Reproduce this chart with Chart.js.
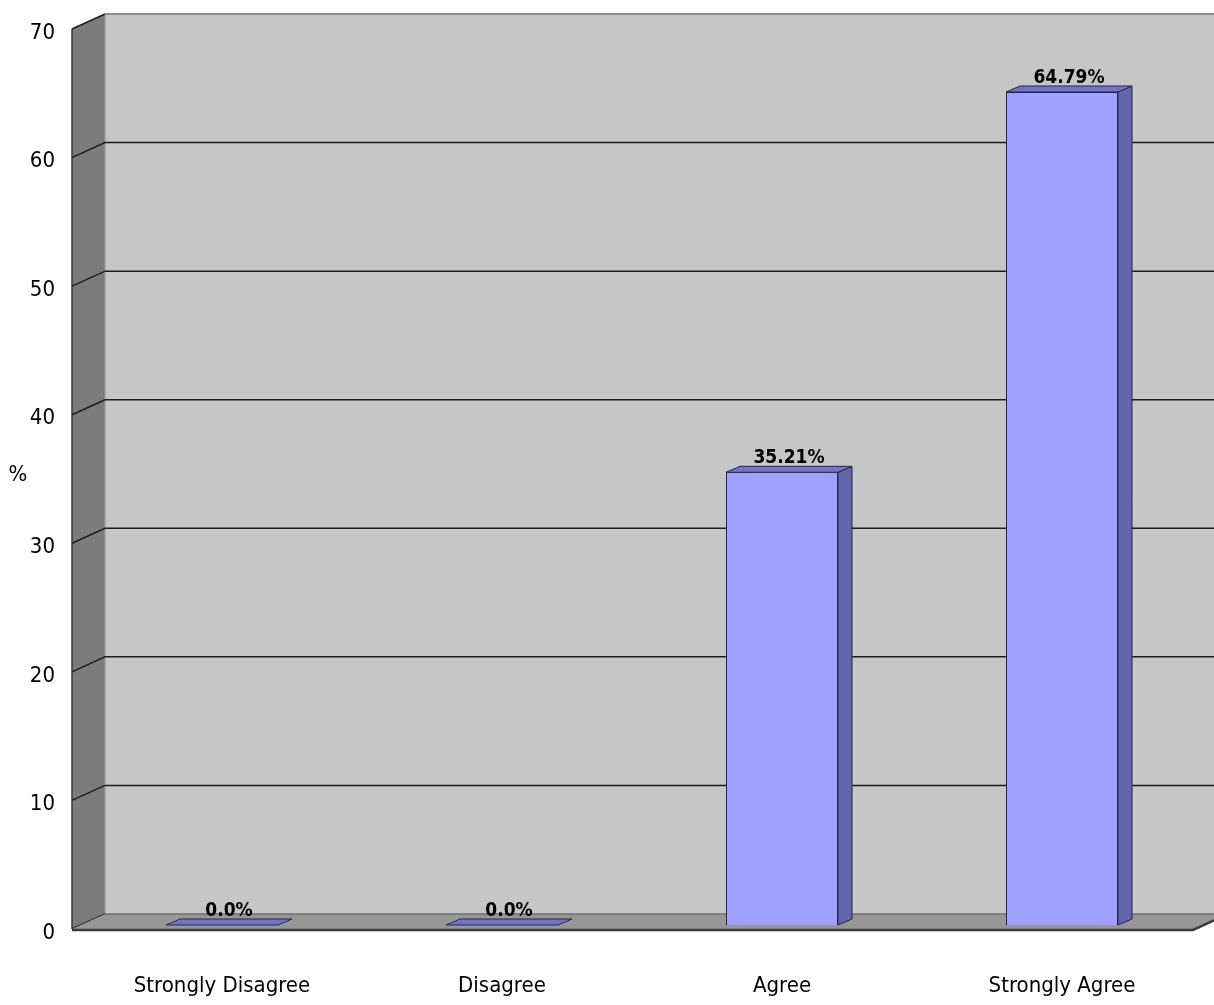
<!DOCTYPE html>
<html>
<head>
<meta charset="utf-8">
<title>Responses</title>
<script src="https://cdn.jsdelivr.net/npm/chart.js@4.4.1/dist/chart.umd.min.js"></script>
<style>
  html, body { margin: 0; padding: 0; background: #ffffff; }
  canvas { display: block; }
</style>
</head>
<body>
<canvas id="myChart" width="1214" height="1005"></canvas>
<script>
// answers and their share of respondents (%)
const categories = ["Strongly Disagree", "Disagree", "Agree", "Strongly Agree"];
const percentValues = [0, 0, 35.21, 64.79];
const yTicks = [0, 10, 20, 30, 40, 50, 60, 70];

const narrowFont = "'Liberation Sans Narrow', 'DejaVu Sans Condensed', sans-serif";

// depth of the walls and of each bar
const WALL_DX = 33;
const WALL_DY = 15;
const BAR_DX = 14;
const BAR_DY = 6;
const FRONT_SHIFT = 4;

function formatPercent(v) {
  return v === 0 ? "0.0%" : v.toFixed(2) + "%";
}

// ! walls, floor and gridlines behind the bars
const boxPlugin = {
  id: "box3d",
  beforeDatasetsDraw(chart) {
    const ctx = chart.ctx;
    const ca = chart.chartArea;
    const y = chart.scales.y;
    const frontX = ca.left - 10;
    const backX = frontX + WALL_DX;
    const maxTick = yTicks[yTicks.length - 1];
    const top = y.getPixelForValue(maxTick) + FRONT_SHIFT;
    const bottom = y.getPixelForValue(0) + FRONT_SHIFT;
    const right = chart.width;

    ctx.save();
    // back wall
    ctx.fillStyle = "#c6c6c6";
    ctx.fillRect(backX, top - WALL_DY, right - backX, bottom - top);
    ctx.strokeStyle = "#8c8c8c";
    ctx.lineWidth = 2;
    ctx.beginPath();
    ctx.moveTo(backX, top - WALL_DY);
    ctx.lineTo(right, top - WALL_DY);
    ctx.stroke();

    // left wall
    ctx.fillStyle = "#7c7c7c";
    ctx.beginPath();
    ctx.moveTo(frontX, top);
    ctx.lineTo(backX, top - WALL_DY);
    ctx.lineTo(backX, bottom - WALL_DY);
    ctx.lineTo(frontX, bottom);
    ctx.closePath();
    ctx.fill();
    ctx.strokeStyle = "#9a9a9a";
    ctx.lineWidth = 1.5;
    ctx.beginPath();
    ctx.moveTo(backX, top - WALL_DY);
    ctx.lineTo(backX, bottom - WALL_DY);
    ctx.stroke();
    ctx.strokeStyle = "#3a3a3a";
    ctx.beginPath();
    ctx.moveTo(frontX, top);
    ctx.lineTo(frontX, bottom);
    ctx.stroke();

    // gridlines: slanted on the side wall, flat on the back wall
    yTicks.forEach((t) => {
      const yf = y.getPixelForValue(t) + FRONT_SHIFT;
      ctx.strokeStyle = "#1e1e1e";
      ctx.lineWidth = 1.5;
      ctx.beginPath();
      ctx.moveTo(frontX, yf);
      ctx.lineTo(backX, yf - WALL_DY);
      if (t > 0 && t < maxTick) ctx.lineTo(right, yf - WALL_DY);
      ctx.stroke();
    });

    // floor
    const floorRight = ca.right - 9;
    ctx.fillStyle = "#979797";
    ctx.beginPath();
    ctx.moveTo(frontX, bottom);
    ctx.lineTo(backX, bottom - WALL_DY);
    ctx.lineTo(floorRight + WALL_DX, bottom - WALL_DY);
    ctx.lineTo(floorRight, bottom);
    ctx.closePath();
    ctx.fill();
    ctx.strokeStyle = "#6e6e6e";
    ctx.lineWidth = 1.5;
    ctx.beginPath();
    ctx.moveTo(backX, bottom - WALL_DY);
    ctx.lineTo(right, bottom - WALL_DY);
    ctx.stroke();
    ctx.strokeStyle = "#3c3c3c";
    ctx.lineWidth = 2.5;
    ctx.beginPath();
    ctx.moveTo(frontX, bottom + 1);
    ctx.lineTo(floorRight, bottom + 1);
    ctx.lineTo(floorRight + WALL_DX, bottom + 1 - WALL_DY);
    ctx.stroke();

    // axis title
    ctx.fillStyle = "#000";
    ctx.font = "22px " + narrowFont;
    ctx.textAlign = "center";
    ctx.textBaseline = "middle";
    ctx.fillText("%", 18, 475);
    ctx.restore();
  },

  // ! side and top faces of the bars, plus value labels
  afterDatasetsDraw(chart) {
    const ctx = chart.ctx;
    const meta = chart.getDatasetMeta(0);
    ctx.save();
    meta.data.forEach((bar, i) => {
      const left = bar.x - bar.width / 2;
      const right = bar.x + bar.width / 2;
      const topY = bar.y;
      const base = bar.base;

      ctx.strokeStyle = "#26264a";
      ctx.lineWidth = 1;
      // side
      if (base - topY > 0.5) {
        ctx.fillStyle = "#6565ab";
        ctx.beginPath();
        ctx.moveTo(right, topY);
        ctx.lineTo(right + BAR_DX, topY - BAR_DY);
        ctx.lineTo(right + BAR_DX, base - BAR_DY);
        ctx.lineTo(right, base);
        ctx.closePath();
        ctx.fill();
        ctx.stroke();
      }
      // top
      ctx.fillStyle = "#7474c6";
      ctx.beginPath();
      ctx.moveTo(left, topY);
      ctx.lineTo(left + BAR_DX, topY - BAR_DY);
      ctx.lineTo(right + BAR_DX, topY - BAR_DY);
      ctx.lineTo(right, topY);
      ctx.closePath();
      ctx.fill();
      ctx.stroke();

      ctx.fillStyle = "#000";
      ctx.font = "bold 19px " + narrowFont;
      ctx.textAlign = "center";
      ctx.textBaseline = "alphabetic";
      ctx.fillText(formatPercent(percentValues[i]), bar.x + BAR_DX / 2, topY - 9);
    });
    ctx.restore();
  },
};

const data = {
  labels: categories,
  datasets: [
    {
      label: "%",
      data: percentValues,
      backgroundColor: "#a0a0ff",
      borderColor: "#26264a",
      borderWidth: 1,
      barPercentage: 0.4,
      categoryPercentage: 1,
    },
  ],
};

const config = {
  type: "bar",
  data,
  options: {
    responsive: false,
    animation: false,
    devicePixelRatio: 1,
    layout: { padding: { top: 25, right: 12, left: 0, bottom: 0 } },
    plugins: {
      legend: { display: false },
      tooltip: { enabled: false },
    },
    scales: {
      y: {
        min: 0,
        max: 70,
        afterBuildTicks: (scale) => {
          scale.ticks = yTicks.map((v) => ({ value: v }));
        },
        afterFit: (scale) => {
          scale.width = 82;
          scale.paddingTop = 0;
          scale.paddingBottom = 0;
        },
        grid: { display: false, drawTicks: false },
        border: { display: false },
        ticks: {
          padding: 27,
          labelOffset: 8,
          color: "#000",
          font: { family: narrowFont, size: 22 },
        },
      },
      x: {
        afterFit: (scale) => {
          scale.height = 80;
        },
        grid: { display: false, drawTicks: false },
        border: { display: false },
        ticks: {
          padding: 48,
          color: "#000",
          maxRotation: 0,
          font: { family: narrowFont, size: 22 },
        },
      },
    },
  },
  plugins: [boxPlugin],
};

const myChart = new Chart(document.getElementById("myChart"), config);
</script>
</body>
</html>
